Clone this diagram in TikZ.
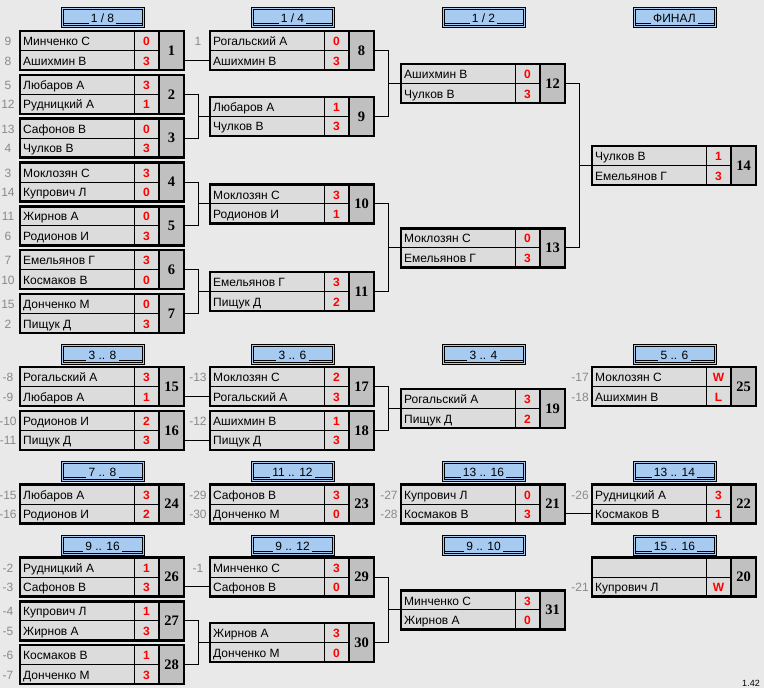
\documentclass[tikz,border=0pt]{standalone}
\usepackage{fontspec}
\setmainfont{Liberation Sans}
\newfontfamily\numfont{Liberation Serif}
\definecolor{bgc}{HTML}{E9E9E9}
\definecolor{rowc}{HTML}{DCDCDC}
\definecolor{numc}{HTML}{C0C0C0}
\definecolor{headc}{HTML}{A6CAF0}
\definecolor{seedc}{HTML}{8A8A8A}
\definecolor{scorec}{HTML}{FF0000}
\tikzset{
 mbox/.style={draw=black, line width=2.5pt, rectangle, minimum width=164pt, minimum height=39pt, inner sep=0pt, outer sep=0pt},
 thinline/.style={draw=black, line width=0.9pt},
 thickline/.style={draw=black, line width=2.5pt},
 conn/.style={draw=black, line width=1pt},
 txt/.style={inner sep=0pt, text height=8.6pt, text depth=0pt, font=\fontsize{12}{14}\selectfont},
 namet/.style={txt, anchor=west, text=black},
 seedt/.style={txt, text=seedc},
 scoret/.style={txt, text=scorec, font=\fontsize{12}{14}\selectfont\bfseries},
 numt/.style={inner sep=0pt, text height=9.5pt, text depth=0pt, font=\numfont\fontsize{14.5}{16}\selectfont\bfseries},
 headbox/.style={draw=black, line width=0.9pt, fill=headc, minimum width=83pt, minimum height=20pt, inner sep=0pt, outer sep=0pt},
 headline/.style={draw=black, line width=0.8pt},
 headt/.style={txt, inner xsep=2pt},
 vert/.style={inner sep=0pt, font=\fontsize{9}{10}\selectfont},
}
\newcommand\MBox[4]{%
 \fill[rowc] (#2,#3) rectangle ++(139,39);
 \fill[numc] (#2+139,#3) rectangle ++(25,39);
 \draw[thinline] (#2,#3+19.5) -- ++(139,0);
 \draw[thinline] (#2+114,#3) -- ++(0,39);
 \draw[thickline] (#2+139,#3) -- ++(0,39);
 \node[mbox] (m#1) at (#2+82,#3+19.5) {};
 \node[numt] (m#1-num) at (#2+151.5,#3+19.5) {#4};
 \coordinate (m#1-a) at (#2,#3+9.75);
 \coordinate (m#1-b) at (#2,#3+29.25);
}
\newcommand\MSlot[5]{%
 \node[seedt] (m#1-s#2) at ([xshift=-12pt,yshift=-0.6pt]m#1-#2) {#3};
 \node[namet] (m#1-n#2) at ([xshift=3pt,yshift=-0.6pt]m#1-#2) {#4};
 \node[scoret] (m#1-r#2) at ([xshift=126.5pt,yshift=-0.6pt]m#1-#2) {#5};
}
\newcommand\MHead[4]{%
 \node[headbox] (h#1) at (#2,#3+10) {};
 \draw[headline] (#2-39.5,#3+2) rectangle (#2+39.5,#3+18);
 \node[headt] (h#1-t) at (#2,#3+11) {#4};
 \coordinate (h#1-L) at (#2-39.5,#3+16.3);
 \coordinate (h#1-R) at (#2+39.5,#3+16.3);
 \draw[headline] (h#1-L) -- (h#1-L -| h#1-t.west);
 \draw[headline] (h#1-R) -- (h#1-R -| h#1-t.east);
}
\begin{document}
\begin{tikzpicture}[x=1pt,y=-1pt]
\useasboundingbox (0,0) rectangle (764,688);
\fill[bgc] (0,0) rectangle (764,688);
% headers
\MHead{1}{102.5}{7}{1 / 8}
\MHead{2}{292.5}{7}{1 / 4}
\MHead{3}{483.5}{7}{1 / 2}
\MHead{4}{674.5}{7}{ФИНАЛ}
\MHead{5}{102.5}{344}{3 .. 8}
\MHead{6}{292.5}{344}{3 .. 6}
\MHead{7}{483.5}{344}{3 .. 4}
\MHead{8}{674.5}{344}{5 .. 6}
\MHead{9}{102.5}{461}{7 .. 8}
\MHead{10}{292.5}{461}{11 .. 12}
\MHead{11}{483.5}{461}{13 .. 16}
\MHead{12}{674.5}{461}{13 .. 14}
\MHead{13}{102.5}{535}{9 .. 16}
\MHead{14}{292.5}{535}{9 .. 12}
\MHead{15}{483.5}{535}{9 .. 10}
\MHead{16}{674.5}{535}{15 .. 16}
% section 1
\MBox{1}{20}{31}{1}
\MSlot{1}{a}{9}{Минченко С}{0}\MSlot{1}{b}{8}{Ашихмин В}{3}
\MBox{2}{20}{74.8}{2}
\MSlot{2}{a}{5}{Любаров А}{3}\MSlot{2}{b}{12}{Рудницкий А}{1}
\MBox{3}{20}{118.7}{3}
\MSlot{3}{a}{13}{Сафонов В}{0}\MSlot{3}{b}{4}{Чулков В}{3}
\MBox{4}{20}{162.5}{4}
\MSlot{4}{a}{3}{Моклозян С}{3}\MSlot{4}{b}{14}{Купрович Л}{0}
\MBox{5}{20}{206.3}{5}
\MSlot{5}{a}{11}{Жирнов А}{0}\MSlot{5}{b}{6}{Родионов И}{3}
\MBox{6}{20}{250.2}{6}
\MSlot{6}{a}{7}{Емельянов Г}{3}\MSlot{6}{b}{10}{Космаков В}{0}
\MBox{7}{20}{294}{7}
\MSlot{7}{a}{15}{Донченко М}{0}\MSlot{7}{b}{2}{Пищук Д}{3}
\MBox{8}{210}{31}{8}
\MSlot{8}{a}{1}{Рогальский А}{0}\MSlot{8}{b}{}{Ашихмин В}{3}
\MBox{9}{210}{96.75}{9}
\MSlot{9}{a}{}{Любаров А}{1}\MSlot{9}{b}{}{Чулков В}{3}
\MBox{10}{210}{184.4}{10}
\MSlot{10}{a}{}{Моклозян С}{3}\MSlot{10}{b}{}{Родионов И}{1}
\MBox{11}{210}{272.1}{11}
\MSlot{11}{a}{}{Емельянов Г}{3}\MSlot{11}{b}{}{Пищук Д}{2}
\MBox{12}{401}{63.9}{12}
\MSlot{12}{a}{}{Ашихмин В}{0}\MSlot{12}{b}{}{Чулков В}{3}
\MBox{13}{401}{228.25}{13}
\MSlot{13}{a}{}{Моклозян С}{0}\MSlot{13}{b}{}{Емельянов Г}{3}
\MBox{14}{592}{146}{14}
\MSlot{14}{a}{}{Чулков В}{1}\MSlot{14}{b}{}{Емельянов Г}{3}
% section 2
\MBox{15}{20}{367}{15}
\MSlot{15}{a}{-8}{Рогальский А}{3}\MSlot{15}{b}{-9}{Любаров А}{1}
\MBox{16}{20}{410.8}{16}
\MSlot{16}{a}{-10}{Родионов И}{2}\MSlot{16}{b}{-11}{Пищук Д}{3}
\MBox{17}{210}{367}{17}
\MSlot{17}{a}{-13}{Моклозян С}{2}\MSlot{17}{b}{}{Рогальский А}{3}
\MBox{18}{210}{410.8}{18}
\MSlot{18}{a}{-12}{Ашихмин В}{1}\MSlot{18}{b}{}{Пищук Д}{3}
\MBox{19}{401}{388.9}{19}
\MSlot{19}{a}{}{Рогальский А}{3}\MSlot{19}{b}{}{Пищук Д}{2}
\MBox{25}{592}{367}{25}
\MSlot{25}{a}{-17}{Моклозян С}{W}\MSlot{25}{b}{-18}{Ашихмин В}{L}
% section 3
\MBox{24}{20}{484.5}{24}
\MSlot{24}{a}{-15}{Любаров А}{3}\MSlot{24}{b}{-16}{Родионов И}{2}
\MBox{23}{210}{484.5}{23}
\MSlot{23}{a}{-29}{Сафонов В}{3}\MSlot{23}{b}{-30}{Донченко М}{0}
\MBox{21}{401}{484.5}{21}
\MSlot{21}{a}{-27}{Купрович Л}{0}\MSlot{21}{b}{-28}{Космаков В}{3}
\MBox{22}{592}{484.5}{22}
\MSlot{22}{a}{-26}{Рудницкий А}{3}\MSlot{22}{b}{}{Космаков В}{1}
% section 4
\MBox{26}{20}{557.5}{26}
\MSlot{26}{a}{-2}{Рудницкий А}{1}\MSlot{26}{b}{-3}{Сафонов В}{3}
\MBox{27}{20}{601.3}{27}
\MSlot{27}{a}{-4}{Купрович Л}{1}\MSlot{27}{b}{-5}{Жирнов А}{3}
\MBox{28}{20}{645.1}{28}
\MSlot{28}{a}{-6}{Космаков В}{1}\MSlot{28}{b}{-7}{Донченко М}{3}
\MBox{29}{210}{557.5}{29}
\MSlot{29}{a}{-1}{Минченко С}{3}\MSlot{29}{b}{}{Сафонов В}{0}
\MBox{30}{210}{623.2}{30}
\MSlot{30}{a}{}{Жирнов А}{3}\MSlot{30}{b}{}{Донченко М}{0}
\MBox{31}{401}{590.35}{31}
\MSlot{31}{a}{}{Минченко С}{3}\MSlot{31}{b}{}{Жирнов А}{0}
\MBox{20}{592}{557.5}{20}
\MSlot{20}{a}{}{}{}\MSlot{20}{b}{-21}{Купрович Л}{W}
% connectors
\draw[conn] (m1.east |- m8-b) -- (m8-b);
\draw[conn] (m2.east) -- ++(14,0) |- (m9.west);
\draw[conn] (m3.east) -- ++(14,0) |- (m9.west);
\draw[conn] (m4.east) -- ++(14,0) |- (m10.west);
\draw[conn] (m5.east) -- ++(14,0) |- (m10.west);
\draw[conn] (m6.east) -- ++(14,0) |- (m11.west);
\draw[conn] (m7.east) -- ++(14,0) |- (m11.west);
\draw[conn] (m8.east) -- ++(14,0) |- (m12.west);
\draw[conn] (m9.east) -- ++(14,0) |- (m12.west);
\draw[conn] (m10.east) -- ++(14,0) |- (m13.west);
\draw[conn] (m11.east) -- ++(14,0) |- (m13.west);
\draw[conn] (m12.east) -- ++(14,0) |- (m14.west);
\draw[conn] (m13.east) -- ++(14,0) |- (m14.west);
\draw[conn] (m15.east |- m17-b) -- (m17-b);
\draw[conn] (m16.east |- m18-b) -- (m18-b);
\draw[conn] (m17.east) -- ++(14,0) |- (m19.west);
\draw[conn] (m18.east) -- ++(14,0) |- (m19.west);
\draw[conn] (m21.east |- m22-b) -- (m22-b);
\draw[conn] (m26.east |- m29-b) -- (m29-b);
\draw[conn] (m27.east) -- ++(14,0) |- (m30.west);
\draw[conn] (m28.east) -- ++(14,0) |- (m30.west);
\draw[conn] (m29.east) -- ++(14,0) |- (m31.west);
\draw[conn] (m30.east) -- ++(14,0) |- (m31.west);
\node[vert] (ver) at (751,683) {1.42};
\end{tikzpicture}
\end{document}
